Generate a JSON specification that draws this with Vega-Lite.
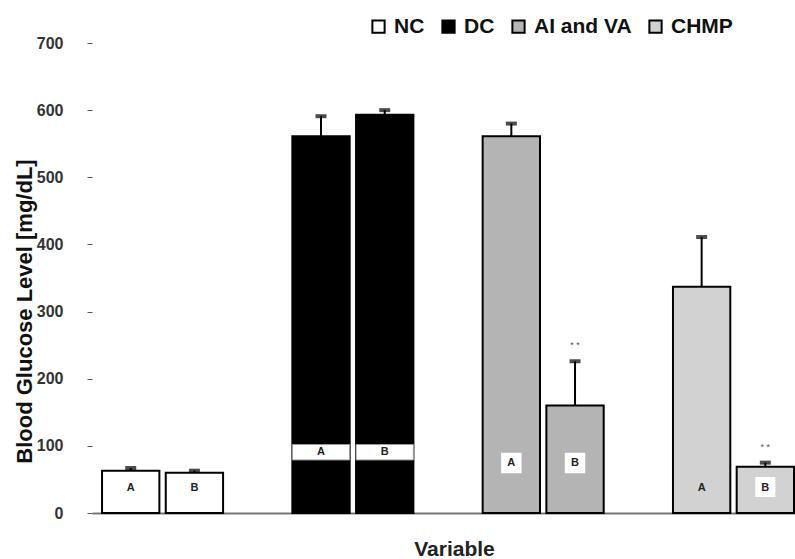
{
  "$schema": "https://vega.github.io/schema/vega-lite/v6.json",
  "width": 703,
  "height": 470,
  "autosize": {"type": "none"},
  "padding": {"left": 92, "top": 43, "right": 0, "bottom": 46},
  "background": "white",
  "config": {"view": {"stroke": null}, "font": "Liberation Sans"},
  "data": {
    "values": [
      {"Group": "NC", "Bar": "A", "Value": 63, "Upper": 67, "Stars": ""},
      {"Group": "NC", "Bar": "B", "Value": 60, "Upper": 63, "Stars": ""},
      {"Group": "DC", "Bar": "A", "Value": 561, "Upper": 591, "Stars": ""},
      {"Group": "DC", "Bar": "B", "Value": 593, "Upper": 600, "Stars": ""},
      {"Group": "AI and VA", "Bar": "A", "Value": 561, "Upper": 580, "Stars": ""},
      {"Group": "AI and VA", "Bar": "B", "Value": 160, "Upper": 226, "Stars": "* *"},
      {"Group": "CHMP", "Bar": "A", "Value": 337, "Upper": 411, "Stars": ""},
      {"Group": "CHMP", "Bar": "B", "Value": 69, "Upper": 75, "Stars": "* *"}
    ]
  },
  "encoding": {
    "x": {
      "field": "Group",
      "type": "nominal",
      "sort": ["NC", "DC", "AI and VA", "CHMP"],
      "scale": {"paddingInner": 0.364, "paddingOuter": 0.029, "align": 0.91},
      "title": "Variable",
      "axis": {
        "labels": false,
        "ticks": false,
        "domainColor": "#777",
        "domainWidth": 2,
        "titleFont": "Liberation Sans",
        "titleFontSize": 21,
        "titleFontWeight": "bold",
        "titleColor": "#222",
        "titleX": 362,
        "titleY": 42,
        "titleBaseline": "alphabetic"
      }
    },
    "xOffset": {
      "field": "Bar",
      "type": "nominal",
      "sort": ["A", "B"],
      "scale": {"paddingInner": 0.1, "paddingOuter": 0}
    }
  },
  "layer": [
    {
      "mark": {"type": "bar", "stroke": "black", "strokeWidth": 2},
      "encoding": {
        "y": {
          "field": "Value",
          "type": "quantitative",
          "scale": {"domain": [0, 700], "nice": false},
          "axis": {
            "values": [0, 100, 200, 300, 400, 500, 600, 700],
            "grid": false,
            "domain": false,
            "tickSize": 5,
            "tickColor": "#555",
            "labelFont": "Liberation Sans",
            "labelFontSize": 16,
            "labelFontWeight": "bold",
            "labelColor": "#333",
            "labelPadding": 24,
            "title": "Blood Glucose Level [mg/dL]",
            "titleFont": "Liberation Sans",
            "titleFontSize": 22,
            "titleFontWeight": "bold",
            "titleColor": "#111",
            "titleX": -68,
            "titleY": 268,
            "titleAlign": "center",
            "titleBaseline": "middle"
          }
        },
        "fill": {
          "field": "Group",
          "type": "nominal",
          "sort": ["NC", "DC", "AI and VA", "CHMP"],
          "scale": {"domain": ["NC", "DC", "AI and VA", "CHMP"], "range": ["#ffffff", "#000000", "#b4b4b4", "#d2d2d2"]},
          "legend": {
            "orient": "none",
            "legendX": 276,
            "legendY": -27,
            "direction": "horizontal",
            "title": null,
            "labelFont": "Liberation Sans",
            "labelFontSize": 21,
            "labelFontWeight": "bold",
            "labelColor": "#111",
            "symbolType": "square",
            "symbolSize": 150,
            "symbolStrokeColor": "black",
            "symbolStrokeWidth": 2,
            "columnPadding": 13,
            "labelOffset": 5
          }
        }
      }
    },
    {
      "mark": {"type": "rule", "color": "black", "strokeWidth": 2},
      "encoding": {
        "y": {"field": "Value", "type": "quantitative"},
        "y2": {"field": "Upper"}
      }
    },
    {
      "mark": {"type": "tick", "color": "black", "size": 11, "thickness": 4, "orient": "horizontal"},
      "encoding": {
        "y": {"field": "Upper", "type": "quantitative"}
      }
    },
    {
      "transform": [{"filter": "datum.Stars != ''"}],
      "mark": {"type": "text", "fontSize": 9, "color": "#555"},
      "encoding": {
        "y": {"field": "Upper", "type": "quantitative"},
        "yOffset": {"value": -16},
        "text": {"field": "Stars"}
      }
    },
    {
      "transform": [{"filter": "datum.Group == 'DC'"}],
      "mark": {"type": "bar", "fill": "white", "stroke": "#999", "strokeWidth": 1},
      "encoding": {
        "y": {"datum": 79},
        "y2": {"datum": 102}
      }
    },
    {
      "transform": [{"filter": "datum.Group == 'AI and VA'"}],
      "mark": {"type": "point", "shape": "square", "filled": true, "color": "white", "size": 420, "opacity": 1},
      "encoding": {
        "y": {"datum": 0},
        "yOffset": {"value": -50}
      }
    },
    {
      "transform": [{"filter": "datum.Group == 'CHMP' && datum.Bar == 'B'"}],
      "mark": {"type": "point", "shape": "square", "filled": true, "color": "white", "size": 400, "opacity": 1},
      "encoding": {
        "y": {"datum": 0},
        "yOffset": {"value": -26}
      }
    },
    {
      "transform": [{"filter": "datum.Group == 'NC' || datum.Group == 'CHMP'"}],
      "mark": {"type": "text", "fontSize": 11, "fontWeight": "bold", "color": "#222", "baseline": "middle"},
      "encoding": {
        "y": {"datum": 0},
        "yOffset": {"value": -25},
        "text": {"field": "Bar"}
      }
    },
    {
      "transform": [{"filter": "datum.Group == 'AI and VA'"}],
      "mark": {"type": "text", "fontSize": 11, "fontWeight": "bold", "color": "#222", "baseline": "middle"},
      "encoding": {
        "y": {"datum": 0},
        "yOffset": {"value": -50},
        "text": {"field": "Bar"}
      }
    },
    {
      "transform": [{"filter": "datum.Group == 'DC'"}],
      "mark": {"type": "text", "fontSize": 11, "fontWeight": "bold", "color": "#222", "baseline": "middle"},
      "encoding": {
        "y": {"datum": 0},
        "yOffset": {"value": -61},
        "text": {"field": "Bar"}
      }
    }
  ]
}
